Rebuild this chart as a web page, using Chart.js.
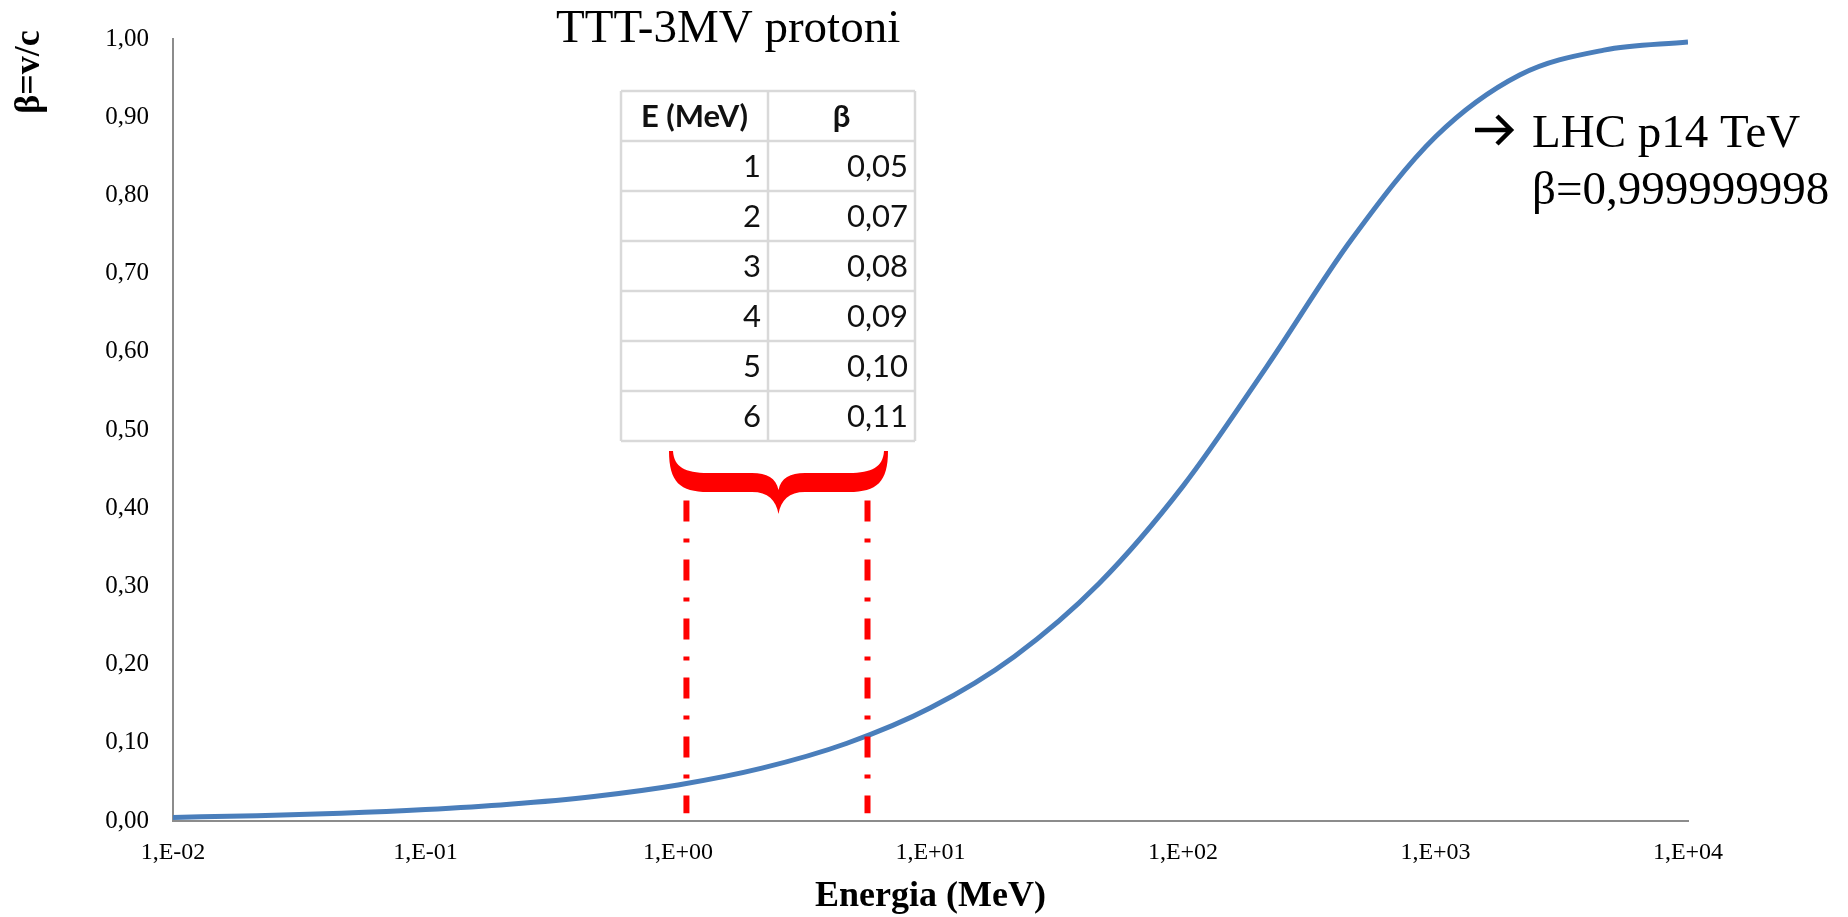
<!DOCTYPE html>
<html>
<head>
<meta charset="utf-8">
<script src="https://cdn.jsdelivr.net/npm/chart.js@4.4.0/dist/chart.umd.min.js"></script>
<style>
  html, body { margin: 0; padding: 0; background: #ffffff; }
  #wrap { width: 1848px; height: 917px; position: relative; }
</style>
</head>
<body>
<div id="wrap"><canvas id="c"></canvas></div>
<script>
// ---- data ----
const energyMeV = [0.01, 0.0215, 0.0464, 0.1, 0.215, 0.464, 1, 2.15, 4.64, 10, 21.5, 46.4, 100, 215, 464, 1000, 2154, 4642, 10000];
const betaValues = [0.0046, 0.0068, 0.0099, 0.0146, 0.0214, 0.0314, 0.0461, 0.0676, 0.0991, 0.1448, 0.2105, 0.3034, 0.4282, 0.5814, 0.7432, 0.8750, 0.9540, 0.9858, 0.9963];

const xTickValues = [0.01, 0.1, 1, 10, 100, 1000, 10000];
const xTickLabels = ['1,E-02', '1,E-01', '1,E+00', '1,E+01', '1,E+02', '1,E+03', '1,E+04'];

const markerLeftE = [1.08, 1.08];
const markerRightE = [5.63, 5.63];
const markerBeta = [0.41, 0.01];

const tableHeader = ['E (MeV)', 'β'];
const tableE = ['1', '2', '3', '4', '5', '6'];
const tableBeta = ['0,05', '0,07', '0,08', '0,09', '0,10', '0,11'];

const chartTitle = 'TTT-3MV protoni';
const lhcLine1 = 'LHC p14 TeV';
const lhcLine2 = 'β=0,999999998';
const xTitle = 'Energia (MeV)';
const yTitle = 'β=v/c';

// ---- build datasets ----
const curve = energyMeV.map((e, i) => ({ x: e, y: betaValues[i] }));
const leftLine = markerLeftE.map((e, i) => ({ x: e, y: markerBeta[i] }));
const rightLine = markerRightE.map((e, i) => ({ x: e, y: markerBeta[i] }));

const SERIF = '"Liberation Serif", "Times New Roman", serif';
const SANS = 'Lato, "Open Sans", sans-serif';

const annotations = {
  id: 'annotations',
  afterDraw(chart) {
    const ctx = chart.ctx;
    const ca = chart.chartArea;
    ctx.save();

    // chart title
    ctx.fillStyle = '#000';
    ctx.font = '47px ' + SERIF;
    ctx.textAlign = 'left';
    ctx.textBaseline = 'alphabetic';
    ctx.fillText(chartTitle, 556, 42);

    // LHC note with arrow
    ctx.strokeStyle = '#000';
    ctx.lineWidth = 4.5;
    ctx.lineCap = 'butt';
    ctx.lineJoin = 'miter';
    ctx.beginPath();
    ctx.moveTo(1475, 130); ctx.lineTo(1511, 130);
    ctx.stroke();
    ctx.beginPath();
    ctx.moveTo(1497, 116); ctx.lineTo(1511, 130); ctx.lineTo(1497, 144);
    ctx.stroke();
    ctx.font = '47px ' + SERIF;
    ctx.fillText(lhcLine1, 1532, 147);
    ctx.fillText(lhcLine2, 1532, 204);

    // axis titles
    ctx.font = 'bold 36px ' + SERIF;
    ctx.textAlign = 'center';
    ctx.fillText(xTitle, (ca.left + ca.right) / 2, 906);
    ctx.save();
    ctx.translate(30, 72);
    ctx.rotate(-Math.PI / 2);
    ctx.textBaseline = 'middle';
    ctx.fillText(yTitle, 0, 0);
    ctx.restore();

    // table
    const tx = 621, ty = 91, cw = 147, rh = 50;
    const rows = tableE.length + 1;
    ctx.fillStyle = '#fff';
    ctx.fillRect(tx, ty, cw * 2, rh * rows);
    ctx.strokeStyle = '#d9d9d9';
    ctx.lineWidth = 2.5;
    ctx.beginPath();
    for (let r = 0; r <= rows; r++) { ctx.moveTo(tx, ty + r * rh); ctx.lineTo(tx + 2 * cw, ty + r * rh); }
    for (let c = 0; c <= 2; c++) { ctx.moveTo(tx + c * cw, ty); ctx.lineTo(tx + c * cw, ty + rows * rh); }
    ctx.stroke();
    ctx.fillStyle = '#111';
    ctx.textBaseline = 'middle';
    ctx.font = 'bold 31px ' + SANS;
    ctx.textAlign = 'center';
    ctx.fillText(tableHeader[0], tx + cw / 2, ty + rh / 2 + 1);
    ctx.fillText(tableHeader[1], tx + cw * 1.5, ty + rh / 2 + 1);
    ctx.font = '31px ' + SANS;
    ctx.textAlign = 'right';
    for (let i = 0; i < tableE.length; i++) {
      const yy = ty + (i + 1.5) * rh + 1;
      ctx.fillText(tableE[i], tx + cw - 7, yy);
      ctx.fillText(tableBeta[i], tx + 2 * cw - 7, yy);
    }

    // curly brace
    ctx.fillStyle = '#ff0000';
    ctx.beginPath();
    ctx.moveTo(669, 451);
    ctx.bezierCurveTo(669, 482, 680, 492, 708, 492);
    ctx.lineTo(752, 492);
    ctx.bezierCurveTo(768, 492, 776, 500, 778.5, 514);
    ctx.bezierCurveTo(781, 500, 789, 492, 805, 492);
    ctx.lineTo(849, 492);
    ctx.bezierCurveTo(877, 492, 888, 482, 888, 451);
    ctx.lineTo(884, 451);
    ctx.bezierCurveTo(883, 467, 872, 473, 849, 473);
    ctx.lineTo(805, 473);
    ctx.bezierCurveTo(790, 473, 781, 478, 778.5, 490);
    ctx.bezierCurveTo(776, 478, 767, 473, 752, 473);
    ctx.lineTo(708, 473);
    ctx.bezierCurveTo(685, 473, 674, 467, 673, 451);
    ctx.closePath();
    ctx.fill();

    ctx.restore();
  }
};

new Chart(document.getElementById('c'), {
  type: 'line',
  data: {
    datasets: [
      {
        data: leftLine, borderColor: '#ff0000', borderWidth: 6, borderDash: [21, 17, 4, 17],
        borderCapStyle: 'butt', pointRadius: 0, tension: 0, fill: false, order: 0
      },
      {
        data: rightLine, borderColor: '#ff0000', borderWidth: 6, borderDash: [21, 17, 4, 17],
        borderCapStyle: 'butt', pointRadius: 0, tension: 0, fill: false, order: 0
      },
      {
        data: curve, borderColor: '#4a7ebb', borderWidth: 5, pointRadius: 0,
        cubicInterpolationMode: 'monotone', fill: false, order: 1,
        borderCapStyle: 'butt'
      }
    ]
  },
  options: {
    responsive: true,
    maintainAspectRatio: false,
    animation: false,
    events: [],
    layout: { padding: { left: 0, right: 160, top: 37, bottom: 0 } },
    plugins: { legend: { display: false }, tooltip: { enabled: false }, title: { display: false } },
    scales: {
      x: {
        type: 'logarithmic',
        min: 0.01, max: 10000,
        grid: { display: false, drawTicks: false },
        border: { display: true, color: '#8c8c8c', width: 2 },
        afterBuildTicks: s => { s.ticks = xTickValues.map(v => ({ value: v })); },
        afterFit: s => { s.height = 96; },
        ticks: {
          autoSkip: false, maxRotation: 0, minRotation: 0, padding: 17,
          color: '#000', font: { family: SERIF, size: 24 },
          callback: (v) => { const i = xTickValues.indexOf(v); return i >= 0 ? xTickLabels[i] : ''; }
        }
      },
      y: {
        min: 0, max: 1,
        grid: { display: false, drawTicks: false },
        border: { display: true, color: '#8c8c8c', width: 2 },
        afterFit: s => { s.width = 173; },
        ticks: {
          stepSize: 0.1, padding: 24, color: '#000', font: { family: SERIF, size: 25 },
          callback: (v) => Number(v).toFixed(2).replace('.', ',')
        }
      }
    }
  },
  plugins: [annotations]
});
</script>
</body>
</html>
